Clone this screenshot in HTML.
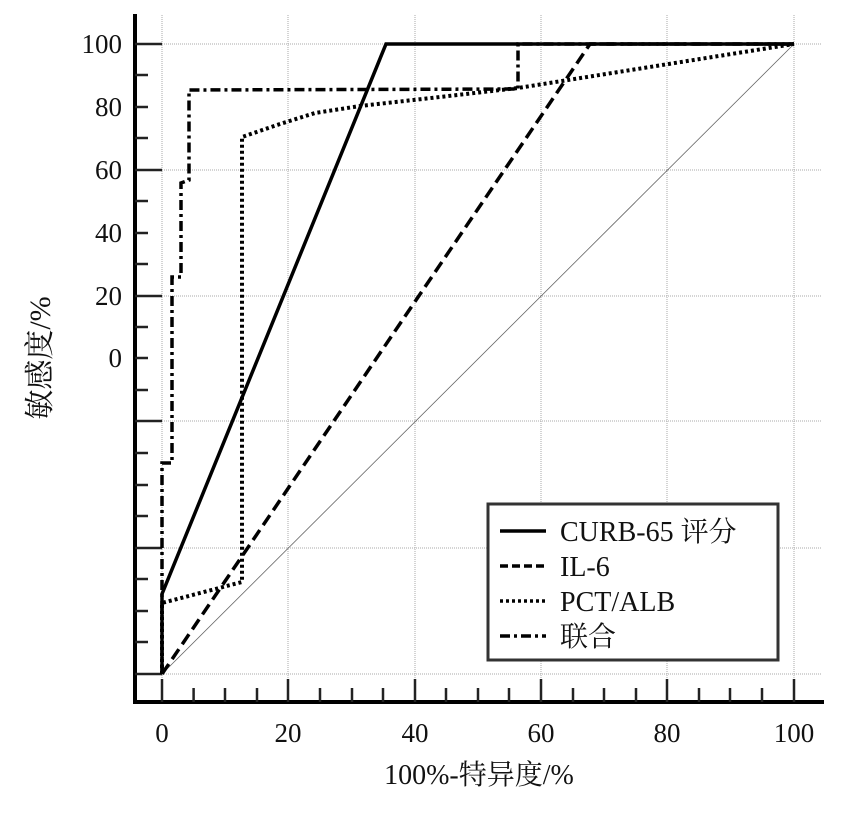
<!DOCTYPE html>
<html><head><meta charset="utf-8"><style>body{margin:0;background:#fff}svg{display:block}</style></head>
<body>
<svg width="862" height="813" viewBox="0 0 862 813" xmlns="http://www.w3.org/2000/svg" font-family="Liberation Serif, Noto Serif CJK SC, serif">
<g stroke="#aaa" stroke-width="1" stroke-dasharray="1,1">
<line x1="162" y1="15" x2="162" y2="700"/><line x1="288" y1="15" x2="288" y2="700"/><line x1="415" y1="15" x2="415" y2="700"/><line x1="541" y1="15" x2="541" y2="700"/><line x1="667" y1="15" x2="667" y2="700"/><line x1="794" y1="15" x2="794" y2="700"/>
<line x1="136" y1="44" x2="822" y2="44"/><line x1="136" y1="170" x2="822" y2="170"/><line x1="136" y1="296" x2="822" y2="296"/><line x1="136" y1="421" x2="822" y2="421"/><line x1="136" y1="548" x2="822" y2="548"/><line x1="136" y1="674" x2="822" y2="674"/>
</g>
<line x1="162" y1="674" x2="794" y2="44" stroke="#666" stroke-width="0.8"/>
<line x1="135" y1="14" x2="135" y2="704" stroke="#000" stroke-width="4"/>
<line x1="133" y1="702" x2="824" y2="702" stroke="#000" stroke-width="4"/>
<g stroke="#222" stroke-width="2.5">
<line x1="135" y1="44" x2="162" y2="44"/><line x1="135" y1="75" x2="148" y2="75"/><line x1="135" y1="107" x2="148" y2="107"/><line x1="135" y1="138" x2="148" y2="138"/><line x1="135" y1="170" x2="162" y2="170"/><line x1="135" y1="201" x2="148" y2="201"/><line x1="135" y1="233" x2="148" y2="233"/><line x1="135" y1="264" x2="148" y2="264"/><line x1="135" y1="296" x2="162" y2="296"/><line x1="135" y1="327" x2="148" y2="327"/><line x1="135" y1="358" x2="148" y2="358"/><line x1="135" y1="390" x2="148" y2="390"/><line x1="135" y1="421" x2="162" y2="421"/><line x1="135" y1="453" x2="148" y2="453"/><line x1="135" y1="485" x2="148" y2="485"/><line x1="135" y1="516" x2="148" y2="516"/><line x1="135" y1="548" x2="162" y2="548"/><line x1="135" y1="579" x2="148" y2="579"/><line x1="135" y1="611" x2="148" y2="611"/><line x1="135" y1="642" x2="148" y2="642"/><line x1="135" y1="674" x2="162" y2="674"/>
<line x1="162" y1="679" x2="162" y2="702"/><line x1="193.6" y1="688" x2="193.6" y2="702"/><line x1="225" y1="688" x2="225" y2="702"/><line x1="257" y1="688" x2="257" y2="702"/><line x1="288" y1="679" x2="288" y2="702"/><line x1="320" y1="688" x2="320" y2="702"/><line x1="352" y1="688" x2="352" y2="702"/><line x1="383" y1="688" x2="383" y2="702"/><line x1="415" y1="679" x2="415" y2="702"/><line x1="446" y1="688" x2="446" y2="702"/><line x1="478" y1="688" x2="478" y2="702"/><line x1="509" y1="688" x2="509" y2="702"/><line x1="541" y1="679" x2="541" y2="702"/><line x1="573" y1="688" x2="573" y2="702"/><line x1="604" y1="688" x2="604" y2="702"/><line x1="636" y1="688" x2="636" y2="702"/><line x1="667" y1="679" x2="667" y2="702"/><line x1="699" y1="688" x2="699" y2="702"/><line x1="730" y1="688" x2="730" y2="702"/><line x1="762" y1="688" x2="762" y2="702"/><line x1="794" y1="679" x2="794" y2="702"/>
</g>
<g font-size="27" fill="#111" text-anchor="end">
<text x="122" y="53">100</text><text x="122" y="116">80</text><text x="122" y="179">60</text><text x="122" y="242">40</text><text x="122" y="305">20</text><text x="122" y="367">0</text>
</g>
<g font-size="27" fill="#111" text-anchor="middle">
<text x="162" y="742">0</text><text x="288" y="742">20</text><text x="415" y="742">40</text><text x="541" y="742">60</text><text x="667" y="742">80</text><text x="794" y="742">100</text>
<text x="479" y="784" font-size="28">100%-特异度/%</text>
<text transform="translate(50,358) rotate(-90)" font-size="30">敏感度/%</text>
</g>
<g fill="none" stroke="#000" stroke-width="3.5">
<polyline points="162,674 162,594 386,44 794,44"/>
<polyline points="162,674 590,44 794,44" stroke-dasharray="12,6"/>
<polyline points="162,674 162,603 242,582 242,137 280,124 315,113 360,106 440,97 518,88 794,44" stroke-dasharray="3,3" stroke-width="4"/>
<polyline points="162,674 162,463 172,463 172,277 181,277 181,183 189,180 189,90 518,89 518,44 794,44" stroke-dasharray="10,4,3,4"/>
</g>
<rect x="488" y="504" width="290" height="156" fill="#fff" stroke="#333" stroke-width="3"/>
<g fill="none" stroke="#000" stroke-width="3.5">
<line x1="500" y1="531" x2="546" y2="531"/>
<line x1="500" y1="566" x2="546" y2="566" stroke-dasharray="8,4"/>
<line x1="500" y1="601" x2="546" y2="601" stroke-dasharray="3,3"/>
<line x1="500" y1="636" x2="546" y2="636" stroke-dasharray="10,4,3,4"/>
</g>
<g font-size="28" fill="#111">
<text x="560" y="541">CURB-65 评分</text><text x="560" y="576">IL-6</text><text x="560" y="611">PCT/ALB</text><text x="560" y="646">联合</text>
</g>
</svg>
</body></html>
